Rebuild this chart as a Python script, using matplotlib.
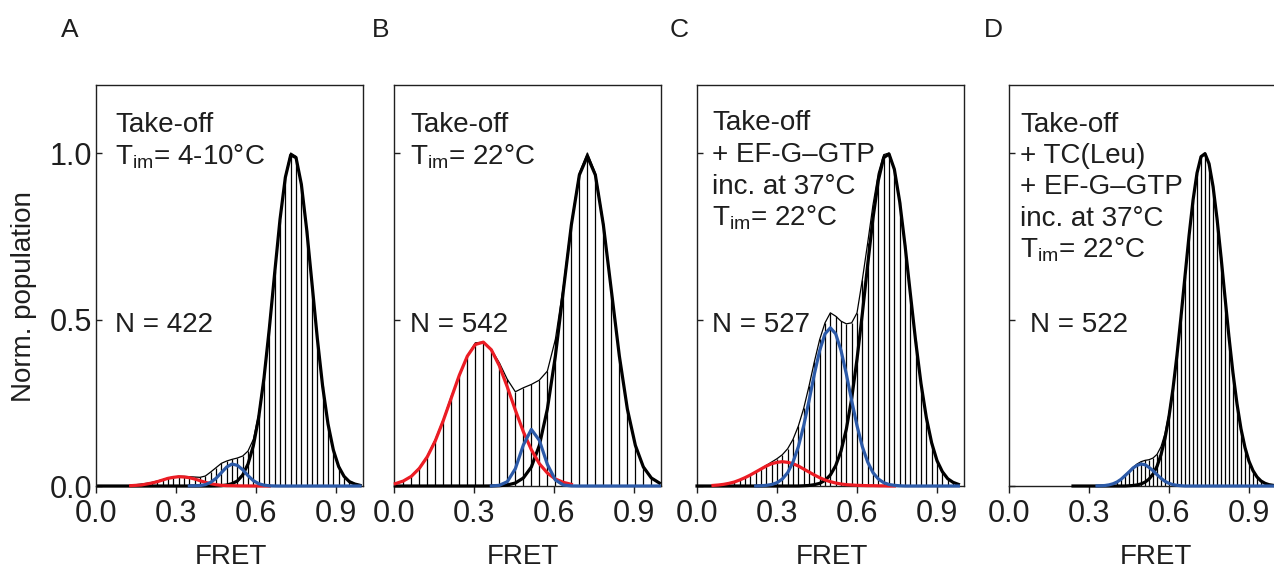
import numpy as np
import matplotlib
matplotlib.use("Agg")
import matplotlib.pyplot as plt

plt.rcParams['font.family'] = ['Liberation Sans', 'DejaVu Sans']
plt.rcParams['mathtext.fontset'] = 'custom'
plt.rcParams['mathtext.rm'] = 'Liberation Sans'
plt.rcParams['mathtext.it'] = 'Liberation Sans'

# ---------------- data ----------------
# Panel A (bin width 0.02)
A_width = 0.02
A_hist_start = 0.13
A_hist = [0.002, 0.004, 0.006, 0.008, 0.011, 0.015, 0.019, 0.024, 0.027, 0.029,
          0.029, 0.028, 0.027, 0.026, 0.030, 0.042, 0.055, 0.068, 0.075, 0.080,
          0.084, 0.090, 0.105, 0.140, 0.215, 0.330, 0.480, 0.645, 0.800, 0.930,
          1.000, 0.990, 0.905, 0.770, 0.605, 0.440, 0.300, 0.185, 0.110, 0.060,
          0.030, 0.015, 0.007, 0.003]
A_red_start = 0.13
A_red = [0.001, 0.002, 0.003, 0.006, 0.009, 0.013, 0.018, 0.023, 0.026, 0.028,
         0.027, 0.025, 0.021, 0.016, 0.011, 0.007, 0.004, 0.002, 0.001, 0.001,
         0.0005, 0.0003, 0.0002, 0.0001, 0.0, 0.0, 0.0]
A_blue_start = 0.35
A_blue = [0.0003, 0.0007, 0.0014, 0.004, 0.011, 0.023, 0.040, 0.057, 0.066, 0.062,
          0.049, 0.031, 0.016, 0.007, 0.0025, 0.0007, 0.0002,
          0, 0, 0, 0, 0, 0, 0, 0, 0, 0, 0, 0, 0, 0, 0, 0]
A_black_start = 0.01
A_black = [0, 0, 0, 0, 0, 0,
           0, 0, 0, 0, 0, 0, 0, 0, 0, 0, 0, 0, 0, 0, 0, 0,
           0.0003, 0.001, 0.003, 0.007, 0.015, 0.033, 0.066, 0.121, 0.206, 0.325,
           0.474, 0.640, 0.801, 0.927, 0.994, 0.986, 0.906, 0.770, 0.607, 0.442,
           0.298, 0.186, 0.108, 0.058, 0.029, 0.013, 0.006, 0.002]

# Panel B (bin width 0.03)
B_width = 0.03
B_hist_start = 0.005
B_hist = [0.005, 0.015, 0.030, 0.055, 0.090, 0.140, 0.200, 0.270, 0.330, 0.390,
          0.430, 0.432, 0.410, 0.370, 0.320, 0.283, 0.295, 0.305, 0.318, 0.345,
          0.440, 0.600, 0.790, 0.940, 1.000, 0.940, 0.790, 0.590, 0.390, 0.230,
          0.120, 0.060, 0.025, 0.010]
B_red_start = 0.005
B_red = [0.007, 0.015, 0.029, 0.053, 0.088, 0.136, 0.197, 0.265, 0.333, 0.390,
         0.425, 0.432, 0.409, 0.361, 0.297, 0.228, 0.163, 0.109, 0.067, 0.039,
         0.021, 0.011, 0.005]
B_blue_start = 0.365
B_blue = [0.0002, 0.002, 0.013, 0.052, 0.123, 0.170, 0.137, 0.065, 0.018, 0.003,
          0.0003, 0, 0, 0, 0, 0, 0, 0, 0, 0, 0, 0]
B_black_start = 0.005
B_black = [0, 0, 0, 0, 0, 0, 0, 0, 0, 0, 0,
           0.0, 0.0002, 0.0009, 0.003, 0.009, 0.024, 0.057, 0.122, 0.231, 0.390,
           0.587, 0.784, 0.934, 0.990, 0.934, 0.784, 0.587, 0.390, 0.231, 0.122,
           0.057, 0.024, 0.009]

# Panel C (bin width 0.02)
C_width = 0.02
C_hist_start = 0.06
C_hist = [0.002, 0.003, 0.005, 0.008, 0.012, 0.018, 0.025, 0.033, 0.042, 0.052,
          0.062, 0.072, 0.082, 0.094, 0.112, 0.140, 0.180, 0.233, 0.300, 0.373,
          0.440, 0.490, 0.520, 0.510, 0.495, 0.487, 0.490, 0.520, 0.620, 0.730,
          0.845, 0.940, 0.995, 1.000, 0.953, 0.854, 0.723, 0.577, 0.434, 0.307,
          0.205, 0.129, 0.076, 0.043, 0.022, 0.011, 0.005]
C_red_start = 0.06
C_red = [0.0017, 0.003, 0.005, 0.008, 0.012, 0.018, 0.025, 0.033, 0.042, 0.051,
         0.060, 0.067, 0.071, 0.073, 0.071, 0.067, 0.060, 0.051, 0.042, 0.033,
         0.025, 0.018, 0.013, 0.009, 0.006, 0.004, 0.003, 0.002, 0.0015, 0.001,
         0.001, 0.0005, 0.0005, 0.0, 0.0]
C_blue_start = 0.22
C_blue = [0.0002, 0.0007, 0.002, 0.0045, 0.010, 0.021, 0.040, 0.072, 0.118, 0.181,
          0.256, 0.336, 0.407, 0.457, 0.475, 0.457, 0.407, 0.336, 0.256, 0.181,
          0.118, 0.072, 0.040, 0.021, 0.010, 0.0045, 0.002, 0.0007,
          0, 0, 0, 0, 0, 0, 0, 0, 0, 0, 0]
C_black_start = 0.0
C_black = [0, 0, 0, 0, 0, 0, 0, 0, 0, 0, 0, 0, 0, 0, 0, 0, 0, 0, 0, 0,
           0.0007, 0.0016, 0.004, 0.008, 0.017, 0.033, 0.061, 0.105, 0.171, 0.263,
           0.381, 0.518, 0.665, 0.805, 0.918, 0.986, 0.997, 0.951, 0.854, 0.723,
           0.577, 0.434, 0.307, 0.205, 0.129, 0.076, 0.043, 0.022, 0.011, 0.005]

# Panel D (bin width 0.015)
D_width = 0.015
D_hist_start = 0.24
D_hist = [0, 0, 0, 0, 0, 0, 0, 0.001, 0.0015, 0.003,
          0.007, 0.013, 0.021, 0.032, 0.044, 0.056, 0.066, 0.073, 0.077, 0.079,
          0.084, 0.095, 0.118, 0.158, 0.218, 0.297, 0.396, 0.510, 0.630, 0.752,
          0.860, 0.940, 0.990, 1.000, 0.968, 0.900, 0.803, 0.688, 0.566, 0.446,
          0.338, 0.246, 0.171, 0.115, 0.074, 0.046, 0.027, 0.015, 0.008, 0.004,
          0.002]
D_blue_start = 0.33
D_blue = [0.0003, 0.0007, 0.0015, 0.0034, 0.0067, 0.012, 0.020, 0.031, 0.042, 0.054,
          0.062, 0.066, 0.064, 0.056, 0.046, 0.034, 0.023, 0.014, 0.008, 0.004,
          0.002, 0.0008,
          0, 0, 0, 0, 0, 0, 0, 0, 0, 0, 0, 0, 0, 0, 0, 0, 0, 0, 0, 0, 0, 0, 0]
D_black_start = 0.24
D_black = [0, 0, 0, 0, 0, 0, 0, 0, 0, 0, 0, 0, 0, 0,
           0.0007, 0.0016, 0.0032, 0.0062, 0.0116, 0.0207, 0.036, 0.059, 0.094, 0.143,
           0.209, 0.293, 0.394, 0.509, 0.631, 0.751, 0.858, 0.940, 0.989, 0.998,
           0.968, 0.900, 0.803, 0.688, 0.566, 0.446, 0.338, 0.246, 0.171, 0.115,
           0.074, 0.046, 0.027, 0.015, 0.008, 0.004, 0.002]

panel_letters = ['A', 'B', 'C', 'D']
panel_texts = [
    ['Take-off', r'$\mathrm{T}_{\mathrm{im}}$= 4-10°C'],
    ['Take-off', r'$\mathrm{T}_{\mathrm{im}}$= 22°C'],
    ['Take-off', '+ EF-G–GTP', 'inc. at 37°C', r'$\mathrm{T}_{\mathrm{im}}$= 22°C'],
    ['Take-off', '+ TC(Leu)', '+ EF-G–GTP', 'inc. at 37°C', r'$\mathrm{T}_{\mathrm{im}}$= 22°C'],
]
panel_N = ['N = 422', 'N = 542', 'N = 527', 'N = 522']
xticks = [0.0, 0.3, 0.6, 0.9]
xtick_labels = ['0.0', '0.3', '0.6', '0.9']
yticks = [0.0, 0.5, 1.0]
ytick_labels = ['0.0', '0.5', '1.0']

panels = [
    (A_width, A_hist_start, A_hist, A_red_start, A_red, A_blue_start, A_blue, A_black_start, A_black),
    (B_width, B_hist_start, B_hist, B_red_start, B_red, B_blue_start, B_blue, B_black_start, B_black),
    (C_width, C_hist_start, C_hist, C_red_start, C_red, C_blue_start, C_blue, C_black_start, C_black),
    (D_width, D_hist_start, D_hist, None, None, D_blue_start, D_blue, D_black_start, D_black),
]

# ---------------- layout ----------------
W, H = 1274, 571
fig = plt.figure(figsize=(W / 100, H / 100), dpi=100)

def fx(px):
    return px / W

def fy(py):
    return 1 - py / H

ax_lefts = [96, 394, 697, 1009]
ax_w = 266.7
ax_top, ax_bot = 85, 486
text_left = [115, 410, 712, 1020]
n_left = [115, 410, 712, 1030]
text_base = [
    [132.5, 164.5],
    [132.5, 164.5],
    [130.5, 162, 193.5, 226],
    [131.5, 163, 194, 225.5, 257],
]
fret_x = [231, 523, 832, 1156]
letter_x = [70, 381, 679, 993]

txt_color = '#1e1e1e'
red = '#ec1c24'
blue = '#2c5aa8'

for i, (w, hs, hv, rs, rv, bs, bv, ks, kv) in enumerate(panels):
    ax = fig.add_axes([fx(ax_lefts[i]), fy(ax_bot), ax_w / W, (ax_bot - ax_top) / H])
    ax.set_xlim(0, 1.0)
    ax.set_ylim(0, (ax_bot - ax_top) / 333.0)

    hx = hs + w * np.arange(len(hv))
    ax.vlines(hx, 0, hv, color='black', lw=0.9, zorder=2)
    ax.plot(hx, hv, color='black', lw=0.9, zorder=3)

    kx = ks + w * np.arange(len(kv))
    ax.plot(kx, kv, color='black', lw=2.3, zorder=4, clip_on=False,
            solid_joinstyle='round')
    if rv is not None:
        rx = rs + w * np.arange(len(rv))
        ax.plot(rx, rv, color=red, lw=2.3, zorder=5, clip_on=False,
                solid_joinstyle='round')
    bx = bs + w * np.arange(len(bv))
    ax.plot(bx, bv, color=blue, lw=2.3, zorder=6, clip_on=False,
            solid_joinstyle='round')

    for s in ax.spines.values():
        s.set_linewidth(1.0)
        s.set_color('#202020')

    ax.set_xticks(xticks)
    ax.set_xticklabels(xtick_labels)
    ax.set_yticks(yticks)
    ax.tick_params(axis='x', direction='out', length=5, width=1.0, pad=4,
                   labelsize=22, colors=txt_color)
    ax.tick_params(axis='y', direction='in', length=4.5, width=1.0, pad=2.5,
                   labelsize=22, colors=txt_color)
    if i == 0:
        ax.set_yticklabels(ytick_labels)
    else:
        ax.set_yticklabels([])

    for line, yb in zip(panel_texts[i], text_base[i]):
        fig.text(fx(text_left[i]), fy(yb), line, fontsize=20, color=txt_color,
                 ha='left', va='baseline')
    fig.text(fx(n_left[i]), fy(331.5), panel_N[i], fontsize=20, color=txt_color,
             ha='left', va='baseline')

    fig.text(fx(fret_x[i]), fy(557), 'FRET', fontsize=20, color=txt_color,
             ha='center', va='center')
    fig.text(fx(letter_x[i]), fy(30), panel_letters[i], fontsize=19, color=txt_color,
             ha='center', va='center')

fig.text(fx(24), fy(297), 'Norm. population', fontsize=20, color=txt_color,
         rotation=90, ha='center', va='center')

fig.savefig('out.png', dpi=100)
